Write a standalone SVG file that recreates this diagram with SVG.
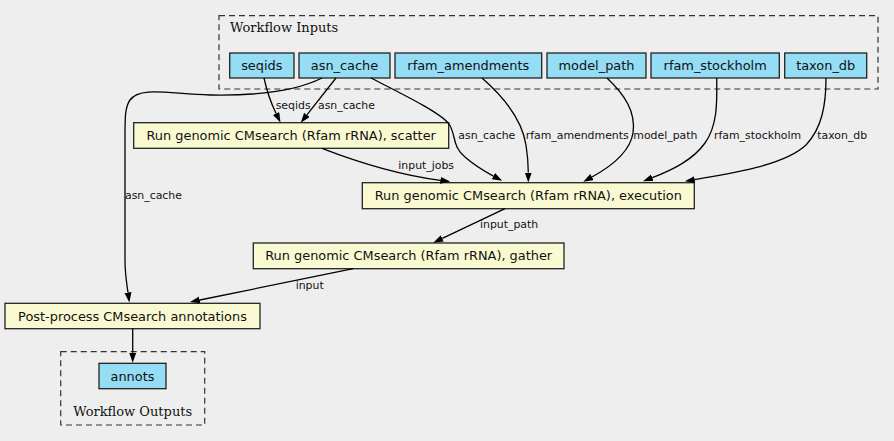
<svg xmlns="http://www.w3.org/2000/svg" width="894" height="441" viewBox="0 0 894 441">
<defs>
<marker id="ah" markerUnits="userSpaceOnUse" markerWidth="11" markerHeight="8" refX="0" refY="3.5" orient="auto">
<path d="M0,0 L10,3.5 L0,7 z" fill="#000"/>
</marker>
<style>
.cl{fill:none;stroke:#333;stroke-width:1.2;stroke-dasharray:6,4}
.ct{font-family:"DejaVu Serif",serif;font-size:13px;fill:#111}
.in rect{fill:#94ddf4;stroke:#222;stroke-width:1.3}
.st rect{fill:#fafad2;stroke:#222;stroke-width:1.3}
.nt{font-family:"DejaVu Sans",sans-serif;font-size:12.9px;fill:#111;text-anchor:middle}
.e path{fill:none;stroke:#000;stroke-width:1.3;marker-end:url(#ah)}
.el{font-family:"DejaVu Sans",sans-serif;font-size:10.9px;fill:#111}
</style>
</defs>
<rect width="894" height="441" fill="#eeeeee"/>
<g id="cluster_inputs">
<rect class="cl" x="219" y="15.7" width="659" height="73.3"/>
<text class="ct" x="230" y="31.5">Workflow Inputs</text>
</g>
<g id="cluster_outputs">
<rect class="cl" x="60.7" y="351.7" width="144" height="73.3"/>
<text class="ct" x="132.7" y="416" text-anchor="middle">Workflow Outputs</text>
</g>
<g id="seqids" class="in"><rect x="229.7" y="53" width="64.3" height="25"/><text class="nt" x="261.8" y="70">seqids</text></g>
<g id="asn_cache" class="in"><rect x="299" y="53" width="91" height="25"/><text class="nt" x="344.5" y="70">asn_cache</text></g>
<g id="rfam_amendments" class="in"><rect x="395" y="53" width="146.7" height="25"/><text class="nt" x="468.3" y="70">rfam_amendments</text></g>
<g id="model_path" class="in"><rect x="547" y="53" width="99" height="25"/><text class="nt" x="596.5" y="70">model_path</text></g>
<g id="rfam_stockholm" class="in"><rect x="651" y="53" width="128.3" height="25"/><text class="nt" x="715.2" y="70">rfam_stockholm</text></g>
<g id="taxon_db" class="in"><rect x="784.7" y="53" width="82" height="25"/><text class="nt" x="825.7" y="70">taxon_db</text></g>
<g id="scatter" class="st"><rect x="133.7" y="122.7" width="315" height="25.6"/><text class="nt" x="291.2" y="140">Run genomic CMsearch (Rfam rRNA), scatter</text></g>
<g id="execution" class="st"><rect x="362.3" y="182.7" width="332" height="26"/><text class="nt" x="528.3" y="200.2">Run genomic CMsearch (Rfam rRNA), execution</text></g>
<g id="gather" class="st"><rect x="253.3" y="243" width="310.7" height="25.7"/><text class="nt" x="408.7" y="260.3">Run genomic CMsearch (Rfam rRNA), gather</text></g>
<g id="postprocess" class="st"><rect x="5" y="303.3" width="255" height="25.4"/><text class="nt" x="132.5" y="320.5">Post-process CMsearch annotations</text></g>
<g id="annots" class="in"><rect x="99" y="363.3" width="67" height="25.4"/><text class="nt" x="132.5" y="380.5">annots</text></g>
<g id="connectors" class="e">
<path d="M264,78 C267,92 271,103 276.1,113.5"/>
<path d="M336,78 L306.9,114.9"/>
<path d="M322,78 C298,90 260,96 210,95 C170,94 140,86 130,100 C125,107 125,118 125,135 L125,260 C125,275 127,285 128,292.5"/>
<path d="M371,78 C398,92 440,112 449,124 C456,134 452,147 465,157 C474,165 484,171 493.4,176.1"/>
<path d="M482,78 C505,98 522,120 526,145 C528,158 528.3,165 528.3,172.5"/>
<path d="M607,78 C625,95 636,112 633,133 C630,152 612,166 592,177"/>
<path d="M716.7,78 C717,100 718,125 705,143 C693,160 672,170 652.3,177.7"/>
<path d="M826,78 C826,105 822,128 806,145 C785,165 730,174 694.7,179.6"/>
<path d="M322,148.3 C360,163 400,175 440.3,180.3"/>
<path d="M505,208.7 L442.3,238.4"/>
<path d="M353.3,268.7 L199.8,300"/>
<path d="M132.7,328.7 L132.7,352.7"/>
<text class="el" x="275.7" y="109">seqids</text>
<text class="el" x="318" y="109">asn_cache</text>
<text class="el" x="125" y="199">asn_cache</text>
<text class="el" x="458.3" y="139">asn_cache</text>
<text class="el" x="525.7" y="139">rfam_amendments</text>
<text class="el" x="633.3" y="139">model_path</text>
<text class="el" x="714" y="139">rfam_stockholm</text>
<text class="el" x="817.3" y="139">taxon_db</text>
<text class="el" x="398.3" y="169">input_jobs</text>
<text class="el" x="480" y="228.3">input_path</text>
<text class="el" x="295.7" y="289">input</text>
</g>
</svg>
